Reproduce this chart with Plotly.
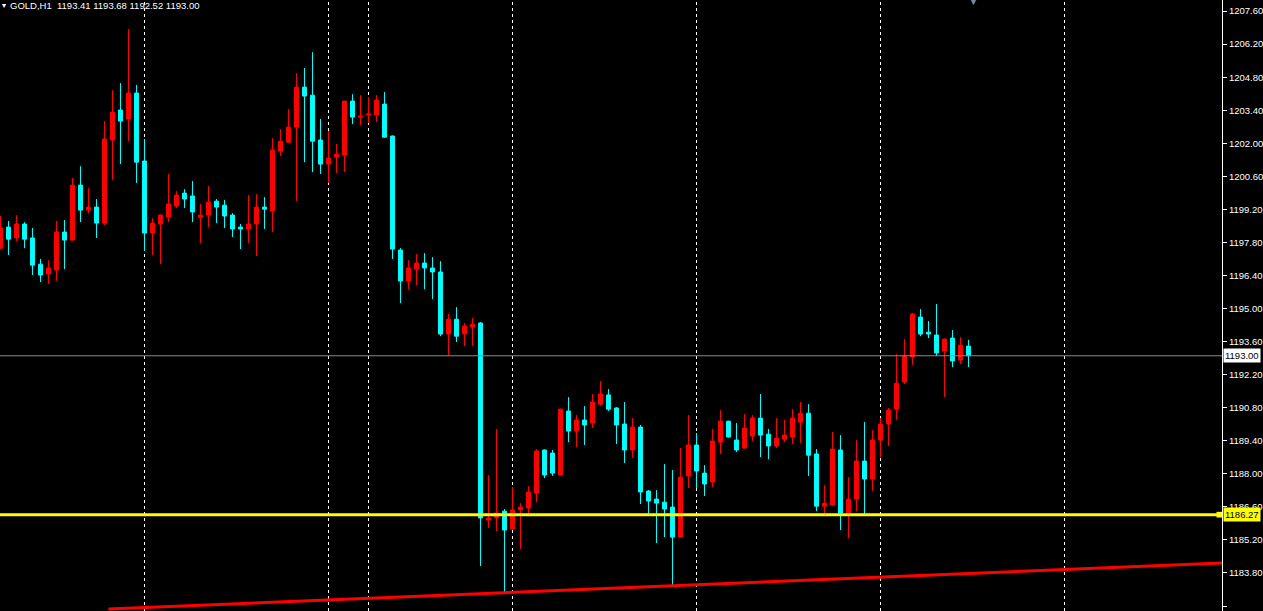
import plotly.graph_objects as go

# ---- data (GOLD, H1) ----
opens = [1197.56, 1198.45, 1197.99, 1198.58, 1197.99, 1196.88, 1196.46, 1196.63, 1198.24, 1197.90,
         1200.23, 1199.17, 1199.30, 1198.62, 1202.14, 1203.41, 1203.03, 1204.13, 1201.25, 1198.20,
         1198.58, 1198.87, 1199.34, 1199.89, 1199.77, 1198.87, 1198.96, 1199.55, 1199.38, 1198.96,
         1198.45, 1198.37, 1198.58, 1199.30, 1199.13, 1201.67, 1202.05, 1202.69, 1204.38, 1204.04,
         1202.14, 1201.12, 1201.42, 1201.50, 1203.79, 1203.11, 1203.20, 1203.20, 1203.66, 1202.31,
         1197.48, 1196.17, 1196.67, 1196.93, 1196.72, 1196.55, 1193.92, 1194.55, 1193.92, 1194.22,
         1194.39, 1186.04, 1186.13, 1186.42, 1185.66, 1186.47, 1186.55, 1187.18, 1189.01, 1188.88,
         1187.95, 1190.66, 1189.81, 1190.28, 1190.15, 1190.95, 1191.34, 1190.79, 1190.11, 1189.01,
         1189.98, 1187.27, 1186.93, 1186.80, 1186.59, 1185.32, 1187.91, 1189.22, 1188.03, 1187.65,
         1189.34, 1190.23, 1189.43, 1189.09, 1189.60, 1190.36, 1189.68, 1189.18, 1189.47, 1189.56,
         1190.19, 1190.57, 1188.84, 1186.63, 1186.68, 1189.01, 1186.30, 1186.93, 1188.54, 1187.78,
         1189.43, 1190.11, 1190.74, 1191.89, 1192.95, 1194.64, 1194.00, 1193.88, 1193.20, 1193.75,
         1192.82, 1193.41]
highs = [1198.92, 1198.71, 1198.96, 1198.66, 1198.41, 1197.10, 1197.05, 1198.71, 1198.75, 1200.53,
         1201.03, 1200.10, 1199.64, 1202.94, 1204.25, 1204.55, 1206.84, 1204.47, 1202.18, 1198.83,
         1198.98, 1200.70, 1199.98, 1200.06, 1200.40, 1199.43, 1200.19, 1199.64, 1199.60, 1199.04,
         1198.58, 1199.81, 1199.85, 1199.72, 1202.22, 1202.60, 1203.45, 1204.97, 1205.19, 1205.86,
         1203.03, 1202.52, 1201.97, 1203.80, 1204.08, 1204.04, 1203.96, 1204.04, 1204.17, 1202.33,
         1197.56, 1197.05, 1197.31, 1197.35, 1197.18, 1197.01, 1194.77, 1195.06, 1194.39, 1194.60,
         1194.42, 1187.95, 1189.90, 1186.51, 1187.44, 1186.76, 1187.48, 1189.05, 1189.03, 1189.01,
         1190.76, 1191.25, 1190.49, 1190.87, 1191.38, 1191.93, 1191.59, 1190.83, 1191.04, 1190.36,
         1190.07, 1187.31, 1187.31, 1188.41, 1188.16, 1189.09, 1190.49, 1189.73, 1188.37, 1189.90,
         1190.70, 1190.25, 1190.15, 1190.53, 1190.49, 1191.38, 1189.90, 1190.36, 1190.28, 1190.74,
         1191.04, 1190.95, 1189.05, 1187.52, 1189.77, 1189.64, 1187.86, 1189.43, 1190.19, 1189.85,
         1190.36, 1190.79, 1193.07, 1193.71, 1194.81, 1194.98, 1194.47, 1195.19, 1193.73, 1194.09,
         1193.79, 1193.68]
lows = [1197.52, 1197.27, 1197.86, 1197.56, 1196.42, 1196.12, 1196.04, 1196.17, 1196.67, 1197.88,
        1198.66, 1199.04, 1197.99, 1198.54, 1200.44, 1201.12, 1202.09, 1200.32, 1197.44, 1197.27,
        1196.88, 1198.66, 1199.26, 1199.26, 1198.66, 1197.77, 1198.45, 1198.62, 1198.41, 1198.03,
        1197.52, 1197.77, 1197.22, 1198.37, 1198.24, 1201.46, 1202.01, 1199.55, 1201.20, 1200.78,
        1200.70, 1200.32, 1200.74, 1200.78, 1202.81, 1202.77, 1202.86, 1202.90, 1202.24, 1197.10,
        1195.23, 1195.82, 1195.99, 1195.82, 1195.40, 1193.83, 1193.03, 1193.58, 1193.41, 1193.41,
        1184.09, 1185.70, 1185.57, 1182.99, 1185.64, 1184.81, 1186.25, 1186.80, 1187.82, 1187.91,
        1187.93, 1189.34, 1189.13, 1189.22, 1189.94, 1190.87, 1190.66, 1189.26, 1188.46, 1188.67,
        1186.72, 1186.25, 1185.07, 1185.32, 1183.29, 1185.30, 1187.40, 1187.40, 1187.06, 1187.44,
        1188.84, 1189.54, 1188.92, 1189.07, 1189.39, 1188.71, 1188.62, 1189.09, 1189.34, 1189.26,
        1189.30, 1187.91, 1186.42, 1186.30, 1186.63, 1185.62, 1185.28, 1186.42, 1186.25, 1187.27,
        1188.71, 1189.18, 1190.28, 1191.80, 1192.61, 1193.83, 1193.75, 1192.99, 1191.25, 1192.52,
        1192.65, 1192.52]
closes = [1198.41, 1197.94, 1198.58, 1197.94, 1196.84, 1196.42, 1196.72, 1198.24, 1197.90, 1200.23,
          1199.17, 1199.30, 1198.62, 1202.18, 1203.32, 1202.94, 1204.13, 1201.20, 1198.20, 1198.62,
          1198.96, 1199.43, 1199.81, 1199.64, 1199.09, 1198.96, 1199.51, 1199.30, 1198.92, 1198.37,
          1198.37, 1198.58, 1199.30, 1199.21, 1201.71, 1202.09, 1202.69, 1204.38, 1204.00, 1202.09,
          1201.12, 1201.37, 1201.54, 1203.79, 1203.11, 1203.15, 1203.24, 1203.83, 1202.26, 1197.52,
          1196.17, 1196.72, 1196.93, 1196.72, 1196.55, 1193.92, 1194.55, 1193.83, 1194.26, 1194.34,
          1186.13, 1186.13, 1186.34, 1185.62, 1186.47, 1186.59, 1187.23, 1188.97, 1187.95, 1188.03,
          1190.74, 1189.81, 1190.28, 1190.07, 1191.04, 1191.38, 1190.74, 1190.07, 1189.01, 1189.98,
          1187.23, 1186.85, 1186.76, 1186.51, 1185.32, 1187.86, 1189.22, 1188.12, 1187.57, 1189.39,
          1190.23, 1189.56, 1189.01, 1189.94, 1190.36, 1189.64, 1189.18, 1189.51, 1189.64, 1190.36,
          1190.57, 1188.79, 1186.63, 1186.76, 1189.05, 1186.34, 1186.93, 1188.54, 1187.78, 1189.43,
          1190.11, 1190.70, 1191.84, 1192.99, 1194.77, 1193.92, 1193.92, 1193.12, 1193.71, 1192.78,
          1193.45, 1193.00]
bars = list(range(len(closes)))

separators = [18, 41, 46, 64, 87, 110, 133]          # bar indexes of dashed vertical lines
tick_values = [1182.40, 1183.80, 1185.20, 1186.60, 1188.00, 1189.40, 1190.80, 1192.20, 1193.60,
               1195.00, 1196.40, 1197.80, 1199.20, 1200.60, 1202.00, 1203.40, 1204.80, 1206.20, 1207.60]
tick_labels = ["%.2f" % v for v in tick_values]
bid_price = 1193.00
support_level = 1186.27
trend_x = [13.5, 152.7]
trend_y = [1182.27, 1184.22]
header = "GOLD,H1\u00a0\u00a01193.41 1193.68 1192.52 1193.00"

X_RANGE = [-0.0625, 152.6875]
Y_RANGE = [1182.19, 1208.07]
FONT = "Liberation Sans, Arial, sans-serif"
FS = 9.5

fig = go.Figure()
fig.add_trace(go.Candlestick(
    x=bars, open=opens, high=highs, low=lows, close=closes,
    increasing=dict(line=dict(color="#ff0000", width=1), fillcolor="#ff0000"),
    decreasing=dict(line=dict(color="#00ffff", width=1), fillcolor="#00ffff"),
    showlegend=False, hoverinfo="skip",
))
# trend line
fig.add_trace(go.Scatter(x=trend_x, y=trend_y, mode="lines",
                         line=dict(color="#ff0000", width=3), showlegend=False, hoverinfo="skip"))
# support line
fig.add_trace(go.Scatter(x=[X_RANGE[0], X_RANGE[1]], y=[support_level, support_level], mode="lines",
                         line=dict(color="#ffff00", width=3), showlegend=False, hoverinfo="skip"))

shapes = []
for s in separators:
    shapes.append(dict(type="line", xref="x", yref="paper", x0=s, x1=s, y0=0, y1=1,
                       line=dict(color="#ffffff", width=1, dash="3px,3px"), layer="below"))
shapes.append(dict(type="line", xref="paper", yref="y", x0=0, x1=1, y0=bid_price, y1=bid_price,
                   line=dict(color="#8c8c8c", width=1), layer="above"))
shapes.append(dict(type="rect", xref="paper", yref="y", x0=0.9955, x1=1.0, y0=support_level - 0.12,
                   y1=support_level + 0.12, fillcolor="#ffff00", line=dict(width=0), layer="above"))

annotations = [
    dict(xref="paper", yref="paper", x=0.0065, y=1.0, xanchor="left", yanchor="top", text=header,
         showarrow=False, font=dict(family=FONT, size=FS, color="#ffffff"), yshift=2),
    dict(xref="paper", yref="paper", x=0.0, y=1.0, xanchor="left", yanchor="top", text="\u25be",
         showarrow=False, font=dict(family=FONT, size=8, color="#ffffff"), yshift=1),
    dict(xref="paper", yref="paper", x=973 / 1222, y=1.0, xanchor="center", yanchor="top", text="\u25bc",
         showarrow=False, font=dict(family=FONT, size=11, color="#7a8a9a"), yshift=7),
    dict(xref="paper", yref="y", x=1.0, y=bid_price, xanchor="left", yanchor="middle",
         text="%.2f" % bid_price, showarrow=False, bgcolor="#ffffff", borderpad=1, xshift=1,
         font=dict(family=FONT, size=FS, color="#000000")),
    dict(xref="paper", yref="y", x=1.0, y=support_level, xanchor="left", yanchor="middle",
         text="%.2f" % support_level, showarrow=False, bgcolor="#ffff00", borderpad=1, xshift=1,
         font=dict(family=FONT, size=FS, color="#000000")),
]

fig.update_layout(
    width=1263, height=611,
    margin=dict(l=0, r=41, t=0, b=0, autoexpand=False),
    paper_bgcolor="#000000", plot_bgcolor="#000000",
    showlegend=False,
    shapes=shapes, annotations=annotations,
    xaxis=dict(range=X_RANGE, visible=False, showgrid=False, zeroline=False,
               rangeslider=dict(visible=False), fixedrange=True),
    yaxis=dict(range=Y_RANGE, side="right", showgrid=False, zeroline=False, automargin=False,
               tickvals=tick_values, ticktext=tick_labels, ticks="outside", ticklen=4,
               tickcolor="#ffffff", showline=True, linecolor="#ffffff", linewidth=1,
               tickfont=dict(family=FONT, size=FS, color="#ffffff"), fixedrange=True),
)

fig.write_html("out.html",
               config={"displayModeBar": False},
               post_script="document.body.style.margin='0px';document.body.style.overflow='hidden';"
                           "document.body.style.background='#000';")
